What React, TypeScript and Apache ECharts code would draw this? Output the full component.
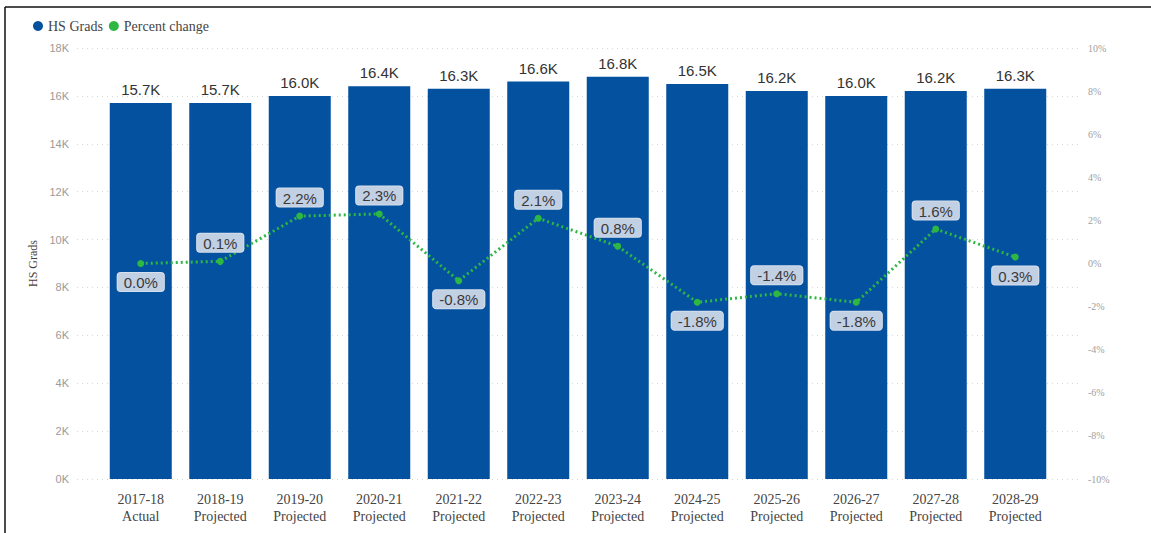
import React, { useEffect, useRef } from "react";
import * as echarts from "echarts";

const categories = [
  "2017-18\nActual", "2018-19\nProjected", "2019-20\nProjected", "2020-21\nProjected",
  "2021-22\nProjected", "2022-23\nProjected", "2023-24\nProjected", "2024-25\nProjected",
  "2025-26\nProjected", "2026-27\nProjected", "2027-28\nProjected", "2028-29\nProjected",
];
const hsGrads = [15700, 15700, 16000, 16400, 16300, 16600, 16800, 16500, 16200, 16000, 16200, 16300];
const pctChange = [0.0, 0.1, 2.2, 2.3, -0.8, 2.1, 0.8, -1.8, -1.4, -1.8, 1.6, 0.3];
const pctLabelPos = ["bottom", "top", "top", "top", "bottom", "top", "top", "bottom", "top", "bottom", "top", "bottom"];

const BLUE = "#03519f";
const GREEN = "#2eb843";

export default function App() {
  const ref = useRef<HTMLDivElement>(null);
  useEffect(() => {
    document.body.style.margin = "0";
    const chart = echarts.init(ref.current!, null, { renderer: "svg" });
    const top = 48;
    const bottom = 533 - 479;
    chart.setOption({
      animation: false,
      backgroundColor: "#fff",
      legend: {
        left: 28,
        top: 14,
        itemWidth: 10,
        itemHeight: 10,
        itemGap: 6,
        icon: "circle",
        textStyle: { fontFamily: "Liberation Serif", fontSize: 14, color: "#444" },
        data: [
          { name: "HS Grads", itemStyle: { color: BLUE } },
          { name: "Percent change", itemStyle: { color: GREEN } },
        ],
      },
      graphic: [
        { type: "line", shape: { x1: 5, y1: 7, x2: 1151, y2: 7 }, style: { stroke: "#111", lineWidth: 1.5 } },
        { type: "line", shape: { x1: 5, y1: 7, x2: 5, y2: 533 }, style: { stroke: "#111", lineWidth: 1.5 } },
      ],
      grid: [
        { left: 77, right: 1151 - 1078, top, bottom },
        { left: 101, right: 1151 - 1055, top, bottom },
      ],
      xAxis: [
        { type: "category", gridIndex: 0, data: categories, show: false },
        {
          type: "category",
          gridIndex: 1,
          data: categories,
          axisLine: { show: false },
          axisTick: { show: false },
          axisLabel: {
            fontFamily: "Liberation Serif",
            fontSize: 14,
            color: "#444",
            margin: 12,
            lineHeight: 17,
            interval: 0,
          },
        },
      ],
      yAxis: [
        {
          type: "value",
          gridIndex: 0,
          min: 0,
          max: 18000,
          interval: 2000,
          name: "HS Grads",
          nameLocation: "middle",
          nameGap: 35,
          nameTextStyle: { fontFamily: "Liberation Serif", fontSize: 12, color: "#444" },
          axisLine: { show: false },
          axisTick: { show: false },
          axisLabel: {
            fontFamily: "Liberation Sans",
            fontSize: 11,
            color: "#9a9a9a",
            margin: 8,
            formatter: (v: number) => `${v / 1000}K`,
          },
          splitLine: { show: true, lineStyle: { color: "#d8d8d8", type: [1, 4], width: 1 } },
        },
        {
          type: "value",
          gridIndex: 0,
          position: "right",
          min: -10,
          max: 10,
          interval: 2,
          axisLine: { show: false },
          axisTick: { show: false },
          splitLine: { show: false },
          axisLabel: {
            fontFamily: "Liberation Serif",
            fontSize: 10,
            color: "#a0a0a0",
            margin: 10,
            formatter: (v: number) => `${v}%`,
          },
        },
        { type: "value", gridIndex: 1, min: 0, max: 18000, show: false, splitLine: { show: false } },
        { type: "value", gridIndex: 1, min: -10, max: 10, show: false, splitLine: { show: false } },
      ],
      series: [
        {
          name: "HS Grads",
          type: "bar",
          xAxisIndex: 1,
          yAxisIndex: 2,
          barWidth: 62,
          data: hsGrads,
          itemStyle: { color: BLUE },
          label: {
            show: true,
            position: "top",
            distance: 6,
            fontFamily: "Liberation Sans",
            fontSize: 15,
            color: "#333",
            formatter: (p: any) => `${(p.value / 1000).toFixed(1)}K`,
          },
        },
        {
          name: "Percent change",
          type: "line",
          xAxisIndex: 1,
          yAxisIndex: 3,
          symbol: "circle",
          symbolSize: 7,
          itemStyle: { color: GREEN },
          lineStyle: { color: GREEN, width: 3, type: [2, 3] },
          data: pctChange.map((v, i) => ({
            value: v,
            label: { position: pctLabelPos[i] },
          })),
          label: {
            show: true,
            distance: 6,
            fontFamily: "Liberation Sans",
            fontSize: 15,
            color: "#3a3a3a",
            backgroundColor: "#c2d0e4",
            borderColor: "#d6e0ee",
            borderWidth: 1,
            borderRadius: 3,
            padding: [2, 6, 1, 6],
            formatter: (p: any) => `${Number(p.value).toFixed(1)}%`,
          },
          z: 5,
        },
      ],
    });
    return () => chart.dispose();
  }, []);
  return <div ref={ref} style={{ position: "absolute", left: 0, top: 0, width: 1151, height: 533 }} />;
}
